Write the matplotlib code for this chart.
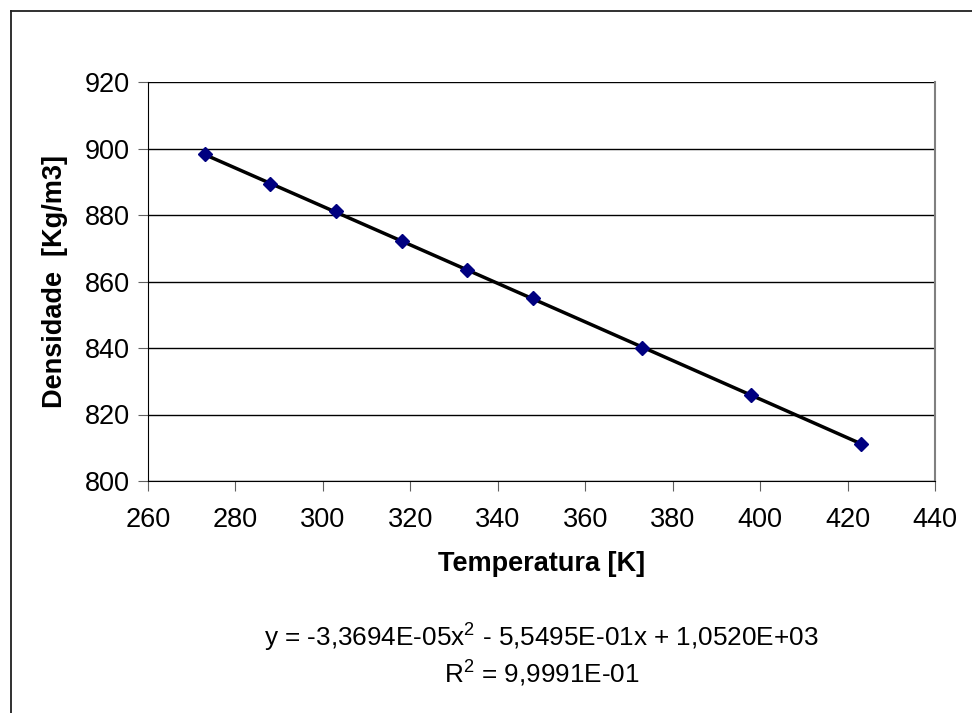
import numpy as np
import matplotlib
matplotlib.use('Agg')
import matplotlib.pyplot as plt
from matplotlib.lines import Line2D

plt.rcParams['font.family'] = ['Liberation Sans', 'DejaVu Sans']
plt.rcParams['mathtext.fontset'] = 'custom'
plt.rcParams['mathtext.rm'] = 'Liberation Sans'
plt.rcParams['mathtext.it'] = 'Liberation Sans:italic'

# data
temperatura = [273, 288, 303, 318, 333, 348, 373, 398, 423]
densidade = [898.2, 889.2, 881.2, 872.2, 863.4, 854.9, 840.0, 826.0, 811.2]

x_ticks = [260, 280, 300, 320, 340, 360, 380, 400, 420, 440]
y_ticks = [800, 820, 840, 860, 880, 900, 920]

eq_text = 'y = -3,3694E-05x$^2$ - 5,5495E-01x + 1,0520E+03'
r2_text = 'R$^2$ = 9,9991E-01'

W, H = 972, 713
fig = plt.figure(figsize=(W / 100, H / 100), dpi=100)
ax = fig.add_axes([148 / W, 1 - 481 / H, (935 - 148) / W, (481 - 82) / H])

# quadratic trend line fitted to the points
coef = np.polyfit(temperatura, densidade, 2)
xt = np.linspace(temperatura[0], temperatura[-1], 200)
ax.plot(xt, np.polyval(coef, xt), color='black', lw=2.5, zorder=2)
ax.plot(temperatura, densidade, linestyle='none', marker='D', ms=7.5,
        color='#000080', mec='#000080', zorder=3)

ax.set_xlim(260, 440)
ax.set_ylim(800, 920)
ax.set_xticks(x_ticks)
ax.set_yticks(y_ticks)
ax.yaxis.grid(True, color='black', lw=1.0)
ax.set_axisbelow(True)

ax.spines['top'].set_visible(False)
ax.spines['right'].set_color('#808080')
ax.spines['right'].set_linewidth(1.5)
ax.spines['left'].set_color('black')
ax.spines['bottom'].set_color('black')
ax.tick_params(axis='both', direction='out', length=7, color='#606060',
               labelsize=19.5)
ax.tick_params(axis='x', pad=12)
ax.tick_params(axis='y', pad=6)

ax.set_xlabel('Temperatura [K]', fontsize=19.5, fontweight='bold', labelpad=13)
ax.set_ylabel('Densidade  [Kg/m3]', fontsize=19.5, fontweight='bold', labelpad=12)

cx = (148 + 935) / 2 / W
fig.text(cx, 1 - 647 / H, eq_text, ha='center', va='baseline', fontsize=18.8)
fig.text(cx, 1 - 683 / H, r2_text, ha='center', va='baseline', fontsize=18.8)

# outer chart frame (cropped on the right and bottom)
fig.add_artist(Line2D([11 / W, 11 / W], [0, 1 - 11 / H], color='#202020', lw=1.3,
                      transform=fig.transFigure))
fig.add_artist(Line2D([11 / W, 1], [1 - 11 / H, 1 - 11 / H], color='#202020', lw=1.3,
                      transform=fig.transFigure))

fig.savefig('out.png', dpi=100)
